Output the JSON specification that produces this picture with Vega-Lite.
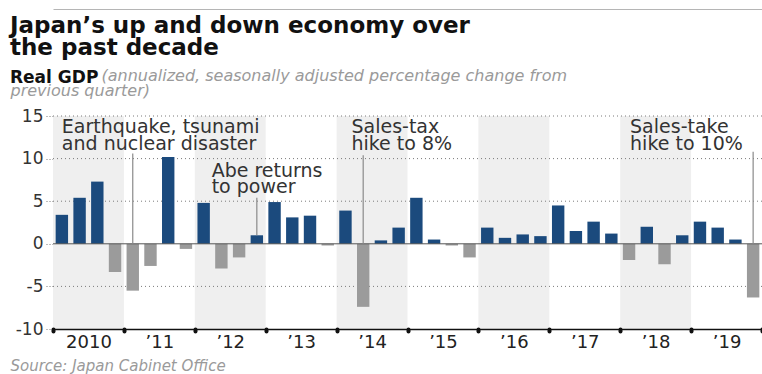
{
  "$schema": "https://vega.github.io/schema/vega-lite/v6.json",
  "width": 709,
  "height": 213,
  "autosize": {"type": "none"},
  "padding": {"left": 53, "top": 116, "right": 0, "bottom": 45},
  "background": "white",
  "config": {"view": {"stroke": null}, "font": "DejaVu Sans"},
  "title": {
    "text": ["Japan’s up and down economy over", "the past decade"],
    "subtitle": "Real GDP",
    "anchor": "start",
    "frame": "group",
    "dx": -43,
    "dy": 87,
    "font": "DejaVu Sans",
    "fontSize": 23,
    "fontWeight": "bold",
    "color": "#111111",
    "lineHeight": 22,
    "subtitleFont": "DejaVu Sans",
    "subtitleFontSize": 17,
    "subtitleFontWeight": "bold",
    "subtitleColor": "#111111",
    "subtitlePadding": 10,
    "offset": 10
  },
  "datasets": {
    "gdp": [
      {"quarter": "2010 Q1", "gdp": 3.4}, {"quarter": "2010 Q2", "gdp": 5.4}, {"quarter": "2010 Q3", "gdp": 7.3}, {"quarter": "2010 Q4", "gdp": -3.3},
      {"quarter": "2011 Q1", "gdp": -5.5}, {"quarter": "2011 Q2", "gdp": -2.6}, {"quarter": "2011 Q3", "gdp": 10.2}, {"quarter": "2011 Q4", "gdp": -0.6},
      {"quarter": "2012 Q1", "gdp": 4.8}, {"quarter": "2012 Q2", "gdp": -2.9}, {"quarter": "2012 Q3", "gdp": -1.6}, {"quarter": "2012 Q4", "gdp": 1.0},
      {"quarter": "2013 Q1", "gdp": 4.9}, {"quarter": "2013 Q2", "gdp": 3.1}, {"quarter": "2013 Q3", "gdp": 3.3}, {"quarter": "2013 Q4", "gdp": -0.2},
      {"quarter": "2014 Q1", "gdp": 3.9}, {"quarter": "2014 Q2", "gdp": -7.4}, {"quarter": "2014 Q3", "gdp": 0.4}, {"quarter": "2014 Q4", "gdp": 1.9},
      {"quarter": "2015 Q1", "gdp": 5.4}, {"quarter": "2015 Q2", "gdp": 0.5}, {"quarter": "2015 Q3", "gdp": -0.2}, {"quarter": "2015 Q4", "gdp": -1.6},
      {"quarter": "2016 Q1", "gdp": 1.9}, {"quarter": "2016 Q2", "gdp": 0.7}, {"quarter": "2016 Q3", "gdp": 1.1}, {"quarter": "2016 Q4", "gdp": 0.9},
      {"quarter": "2017 Q1", "gdp": 4.5}, {"quarter": "2017 Q2", "gdp": 1.5}, {"quarter": "2017 Q3", "gdp": 2.6}, {"quarter": "2017 Q4", "gdp": 1.2},
      {"quarter": "2018 Q1", "gdp": -1.9}, {"quarter": "2018 Q2", "gdp": 2.0}, {"quarter": "2018 Q3", "gdp": -2.4}, {"quarter": "2018 Q4", "gdp": 1.0},
      {"quarter": "2019 Q1", "gdp": 2.6}, {"quarter": "2019 Q2", "gdp": 1.9}, {"quarter": "2019 Q3", "gdp": 0.5}, {"quarter": "2019 Q4", "gdp": -6.3}
    ],
    "shaded": [{"year": "2010"}, {"year": "’12"}, {"year": "’14"}, {"year": "’16"}, {"year": "’18"}],
    "grid": [{"v": 15}, {"v": 10}, {"v": 5}, {"v": -5}],
    "zero": [{"v": 0}],
    "events": [
      {"quarter": "2011 Q1", "top": 10.6, "bottom": 0},
      {"quarter": "2012 Q4", "top": 5.4, "bottom": 1.0},
      {"quarter": "2014 Q2", "top": 10.4, "bottom": 0},
      {"quarter": "2019 Q4", "top": 10.8, "bottom": 0}
    ]
  },
  "layer": [
    {
      "data": {"name": "shaded"},
      "mark": {"type": "rect", "color": "#efefef"},
      "encoding": {
        "x": {
          "field": "year",
          "type": "ordinal",
          "scale": {"domain": ["2010", "’11", "’12", "’13", "’14", "’15", "’16", "’17", "’18", "’19"], "paddingInner": 0, "paddingOuter": 0},
          "axis": {
            "orient": "bottom",
            "tickBand": "extent",
            "domainColor": "#111111",
            "domainWidth": 1.5,
            "tickColor": "#111111",
            "tickSize": 2,
            "tickWidth": 4,
            "tickCap": "round",
            "labelFont": "DejaVu Sans",
            "labelFontSize": 18,
            "labelColor": "#222222",
            "labelPadding": 2,
            "labelAngle": 0,
            "title": "Source: Japan Cabinet Office",
            "titleAnchor": "start",
            "titleAlign": "left",
            "titleX": -43,
            "titleY": 41,
            "titleBaseline": "alphabetic",
            "titleFont": "DejaVu Sans",
            "titleFontSize": 15,
            "titleFontStyle": "italic",
            "titleFontWeight": "normal",
            "titleColor": "#9a9a9a"
          }
        },
        "y": {"datum": 15, "type": "quantitative", "scale": {"domain": [-10, 15], "nice": false}},
        "y2": {"datum": -10}
      }
    },
    {
      "layer": [
        {
          "data": {"name": "grid"},
          "mark": {"type": "rule", "color": "#7a7a7a", "strokeDash": [1, 3], "strokeWidth": 1},
          "encoding": {"y": {"field": "v", "type": "quantitative"}}
        },
        {
          "data": {"name": "gdp"},
          "mark": {"type": "bar"},
          "encoding": {
            "x": {
              "field": "quarter",
              "type": "ordinal",
              "scale": {"paddingInner": 0.3, "paddingOuter": 0.15},
              "axis": {
                "orient": "top",
                "offset": 107,
                "labels": false,
                "ticks": false,
                "domain": true,
                "domainColor": "#b5b5b5",
                "domainWidth": 1,
                "title": "previous quarter)",
                "titleAnchor": "start",
                "titleAlign": "left",
                "titleBaseline": "alphabetic",
                "titleX": -43,
                "titleY": 86,
                "titleFont": "DejaVu Sans",
                "titleFontSize": 16,
                "titleFontStyle": "italic",
                "titleFontWeight": "normal",
                "titleColor": "#9a9a9a"
              }
            },
            "y": {
              "field": "gdp",
              "type": "quantitative",
              "scale": {"domain": [-10, 15], "nice": false},
              "axis": {
                "values": [-10, -5, 0, 5, 10, 15],
                "labelExpr": "replace(datum.label, '\u2212', '-')",
                "grid": false,
                "domain": false,
                "tickSize": 7,
                "tickDash": [1, 2],
                "tickColor": "#7a7a7a",
                "labelFont": "DejaVu Sans",
                "labelFontSize": 17,
                "labelColor": "#333333",
                "labelPadding": 3,
                "title": "(annualized, seasonally adjusted percentage change from",
                "titleAngle": 0,
                "titleAlign": "left",
                "titleBaseline": "alphabetic",
                "titleX": 48,
                "titleY": -36,
                "titleFont": "DejaVu Sans",
                "titleFontSize": 16,
                "titleFontStyle": "italic",
                "titleFontWeight": "normal",
                "titleColor": "#9a9a9a"
              }
            },
            "y2": {"datum": 0},
            "color": {"condition": {"test": "datum.gdp < 0", "value": "#9b9b9b"}, "value": "#1b4a7d"}
          }
        },
        {
          "data": {"name": "zero"},
          "mark": {"type": "rule", "color": "#555555", "strokeWidth": 1},
          "encoding": {"y": {"field": "v", "type": "quantitative"}}
        },
        {
          "data": {"name": "events"},
          "mark": {"type": "rule", "color": "#8a8a8a", "strokeWidth": 1.2},
          "encoding": {
            "x": {"field": "quarter", "type": "ordinal"},
            "y": {"field": "top", "type": "quantitative"},
            "y2": {"field": "bottom"}
          }
        },
        {
          "data": {"values": [{"quarter": "2010 Q1", "y": 13.0, "label": "Earthquake, tsunami\nand nuclear disaster"}]},
          "mark": {"type": "text", "align": "left", "baseline": "alphabetic", "lineBreak": "\n", "fontSize": 19, "lineHeight": 17, "color": "#333333", "dx": 0},
          "encoding": {"x": {"field": "quarter", "type": "ordinal"}, "y": {"field": "y", "type": "quantitative"}, "text": {"field": "label"}}
        },
        {
          "data": {"values": [{"quarter": "2012 Q1", "y": 7.8, "label": "Abe returns\nto power"}]},
          "mark": {"type": "text", "align": "left", "baseline": "alphabetic", "lineBreak": "\n", "fontSize": 19, "lineHeight": 16, "color": "#333333", "dx": 8},
          "encoding": {"x": {"field": "quarter", "type": "ordinal"}, "y": {"field": "y", "type": "quantitative"}, "text": {"field": "label"}}
        },
        {
          "data": {"values": [{"quarter": "2014 Q1", "y": 13.0, "label": "Sales-tax\nhike to 8%"}]},
          "mark": {"type": "text", "align": "left", "baseline": "alphabetic", "lineBreak": "\n", "fontSize": 19, "lineHeight": 17, "color": "#333333", "dx": 6},
          "encoding": {"x": {"field": "quarter", "type": "ordinal"}, "y": {"field": "y", "type": "quantitative"}, "text": {"field": "label"}}
        },
        {
          "data": {"values": [{"quarter": "2018 Q1", "y": 13.0, "label": "Sales-take\nhike to 10%"}]},
          "mark": {"type": "text", "align": "left", "baseline": "alphabetic", "lineBreak": "\n", "fontSize": 19, "lineHeight": 17, "color": "#333333", "dx": 1},
          "encoding": {"x": {"field": "quarter", "type": "ordinal"}, "y": {"field": "y", "type": "quantitative"}, "text": {"field": "label"}}
        }
      ]
    }
  ],
  "resolve": {"scale": {"x": "independent"}, "axis": {"x": "independent"}}
}
